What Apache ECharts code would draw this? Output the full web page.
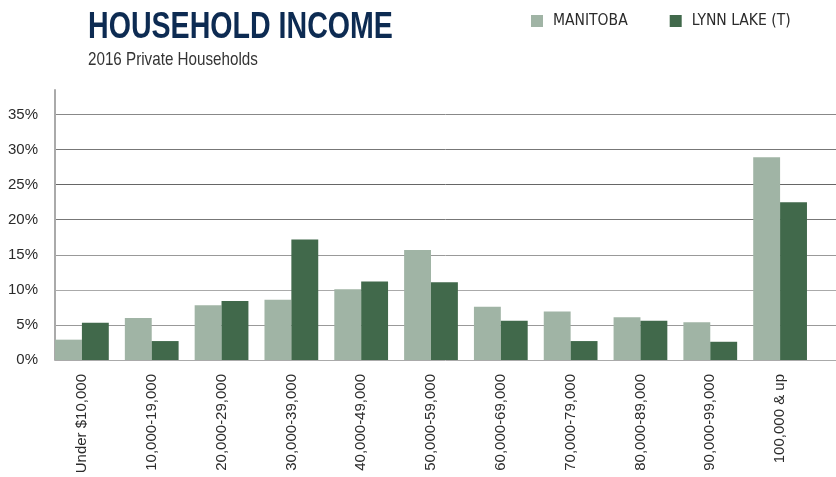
<!DOCTYPE html>
<html>
<head>
<meta charset="utf-8">
<script src="https://cdn.jsdelivr.net/npm/echarts@6/dist/echarts.min.js"></script>
<style>
  html, body { margin: 0; padding: 0; background: #fff; }
  #chart { width: 836px; height: 477px; }
</style>
</head>
<body>
<div id="chart"></div>
<script>
const categories = ['Under $10,000', '10,000-19,000', '20,000-29,000', '30,000-39,000', '40,000-49,000',
  '50,000-59,000', '60,000-69,000', '70,000-79,000', '80,000-89,000', '90,000-99,000', '100,000 & up']
const manitoba = [2.9, 6.0, 7.8, 8.6, 10.1, 15.7, 7.6, 6.9, 6.1, 5.4, 28.9]
const lynnLake = [5.3, 2.7, 8.4, 17.2, 11.2, 11.1, 5.6, 2.7, 5.6, 2.6, 22.5]
const yTicks = [0, 5, 10, 15, 20, 25, 30, 35]

const condensed = '"DejaVu Sans Condensed", sans-serif'
const regular = '"Liberation Sans", Arial, sans-serif'

const chart = echarts.init(document.getElementById('chart'))

chart.setOption({
  animation: false,
  // 标题用横向压缩的文字模拟窄体字
  graphic: [
    {
      type: 'text', left: 88, top: 10, scaleX: 0.794,
      style: { text: 'HOUSEHOLD INCOME', font: 'bold 36px "Liberation Sans", Arial, sans-serif', fill: '#0d2b52' }
    },
    {
      type: 'text', left: 88, top: 50, scaleX: 0.8,
      style: { text: '2016 Private Households', font: '19px "Liberation Sans", Arial, sans-serif', fill: '#333' }
    }
  ],
  legend: {
    left: 531, top: 13, padding: 0,
    icon: 'rect',
    itemWidth: 12, itemHeight: 12,
    itemGap: 42,
    textStyle: { fontFamily: condensed, fontSize: 15.5, color: '#2b2b2b', padding: [0, 0, 0, 5] },
    data: ['MANITOBA', 'LYNN LAKE (T)']
  },
  grid: [
    // 网格线和Y轴
    { left: 55, right: 0, top: 90, bottom: 117 },
    // 柱子和分类标签
    { left: 47, right: 21, top: 90, bottom: 117 }
  ],
  xAxis: [
    { gridIndex: 0, type: 'value', show: false },
    {
      gridIndex: 1, type: 'category', data: categories,
      axisLine: { show: false }, axisTick: { show: false },
      axisLabel: {
        rotate: 90, interval: 0, margin: 14,
        fontFamily: regular, fontSize: 15, color: '#2b2b2b'
      }
    }
  ],
  yAxis: [
    {
      gridIndex: 0, type: 'value', min: 0, max: 38.5, interval: 5,
      axisLine: { show: true, lineStyle: { color: '#aaa', width: 2 } },
      axisTick: { show: false },
      axisLabel: {
        margin: 17, fontFamily: regular, fontSize: 15, color: '#2b2b2b',
        formatter: v => yTicks.includes(v) ? v + '%' : ''
      },
      splitLine: {
        show: true,
        lineStyle: {
          width: 1,
          color: ['#aaa', '#999', '#aaa', '#999', '#777', '#666', '#777', '#888', 'rgba(0,0,0,0)']
        }
      }
    },
    { gridIndex: 1, type: 'value', min: 0, max: 38.5, show: false }
  ],
  series: [
    {
      name: 'MANITOBA', type: 'bar', xAxisIndex: 1, yAxisIndex: 1,
      data: manitoba, barGap: '0%', barCategoryGap: '23%',
      itemStyle: { color: '#a0b4a5' }
    },
    {
      name: 'LYNN LAKE (T)', type: 'bar', xAxisIndex: 1, yAxisIndex: 1,
      data: lynnLake, barGap: '0%', barCategoryGap: '23%',
      itemStyle: { color: '#41694b' }
    }
  ]
})
</script>
</body>
</html>
